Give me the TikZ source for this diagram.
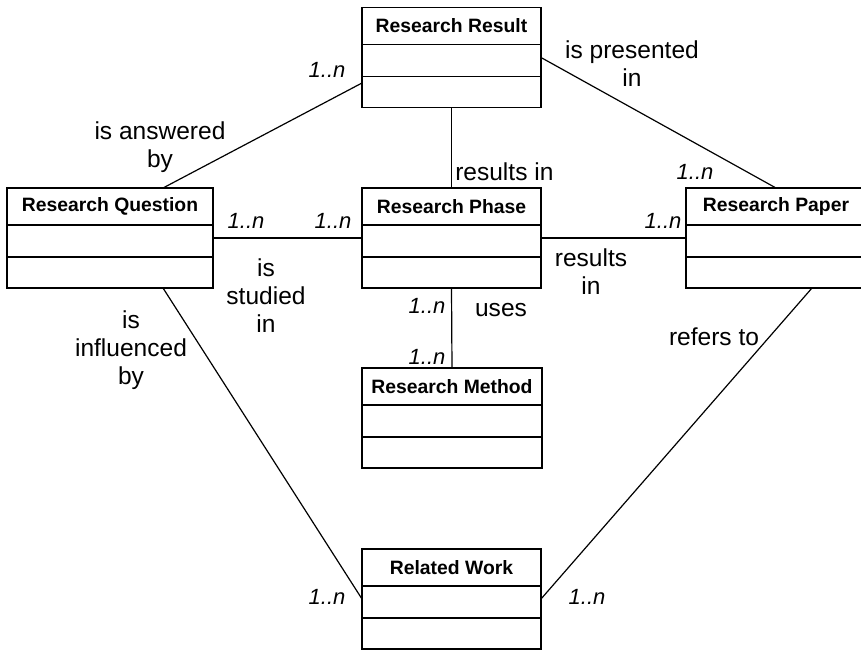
\documentclass[tikz,border=0pt]{standalone}
\usepackage{fontspec}
\setmainfont{Liberation Sans}
\usetikzlibrary{calc}

\tikzset{
  clsbox/.style={draw, line width=1pt, rectangle, inner sep=0pt, outer sep=0pt,
    minimum height=75pt, fill=white},
  clsline/.style={line width=1pt},
  clstitle/.style={font=\fontsize{14.5pt}{17pt}\selectfont\bfseries, inner sep=0pt},
  assoc/.style={line width=0.9pt},
  rolelabel/.style={font=\fontsize{18.4pt}{21pt}\selectfont, align=center, inner sep=0pt},
  mult/.style={font=\fontsize{16.5pt}{19pt}\selectfont\itshape, inner sep=0pt},
}

% a class box: name, centre, width (px), title
\newcommand{\umlclass}[4]{%
  \node[clsbox, minimum width=#3*0.75pt] (#1) at (#2) {};
  \node[clstitle] (#1-title) at ($(#1.north)+(0,18.5)$) {#4};
  \draw[clsline] ($(#1.north west)+(0,37)$) -- ($(#1.north east)+(0,37)$);
  \draw[clsline] ($(#1.north west)+(0,69)$) -- ($(#1.north east)+(0,69)$);
}

\begin{document}
\begin{tikzpicture}[x=0.75pt, y=-0.75pt]
\useasboundingbox (0,0) rectangle (861,652);
\clip (0,0) rectangle (861,652);

% classes
\umlclass{rr}{451.5,57.5}{179}{Research Result}
\umlclass{rq}{110,238}{206}{Research Question}
\umlclass{rp}{451.5,238}{179}{Research Phase}
\umlclass{pa}{776,238}{180}{Research Paper}
\umlclass{rm}{452,418}{180}{Research Method}
\umlclass{rw}{451.5,599}{179}{Related Work}

% attachment points off the box centres
\coordinate (rrL) at ($(rr.west)+(0,25.5)$);
\coordinate (rqT) at ($(rq.north)+(53,0)$);
\coordinate (rqB) at ($(rq.south)+(53,0)$);
\coordinate (paB) at ($(pa.south)+(36,0)$);

% associations
\draw[assoc] (rrL) -- (rqT);
\draw[assoc] (rr.east) -- (pa.north);
\draw[assoc] (rr.south) -- (rp.north);
\draw[assoc] (rq.east) -- (rp.west);
\draw[assoc] (rp.east) -- (pa.west);
\draw[assoc] (rp.south) -- (rm.north);
\draw[assoc] (rqB) -- (rw.west);
\draw[assoc] (paB) -- (rw.east);

% association names
\node[rolelabel] (l1) at (160,147) {is answered\\by};
\node[rolelabel] (l2) at (632,64) {is presented\\in};
\node[rolelabel, anchor=west] (l3) at (455,172) {results in};
\node[rolelabel] (l4) at (266,296) {is\\studied\\in};
\node[rolelabel] (l5) at (591,272) {results\\in};
\node[rolelabel] (l6) at (501,310) {uses};
\node[rolelabel] (l7) at (131,350) {is\\influenced\\by};
\node[rolelabel] (l8) at (714,337) {refers to};

% multiplicities
\node[mult] (m1) at (327,70) {1..n};
\node[mult] (m2) at (695,172) {1..n};
\node[mult] (m3) at (246,221) {1..n};
\node[mult] (m4) at (333,221) {1..n};
\node[mult] (m5) at (663,221) {1..n};
\node[mult] (m6) at (427,306) {1..n};
\node[mult] (m7) at (427,357) {1..n};
\node[mult] (m8) at (327,597) {1..n};
\node[mult] (m9) at (587,597) {1..n};
\end{tikzpicture}
\end{document}
